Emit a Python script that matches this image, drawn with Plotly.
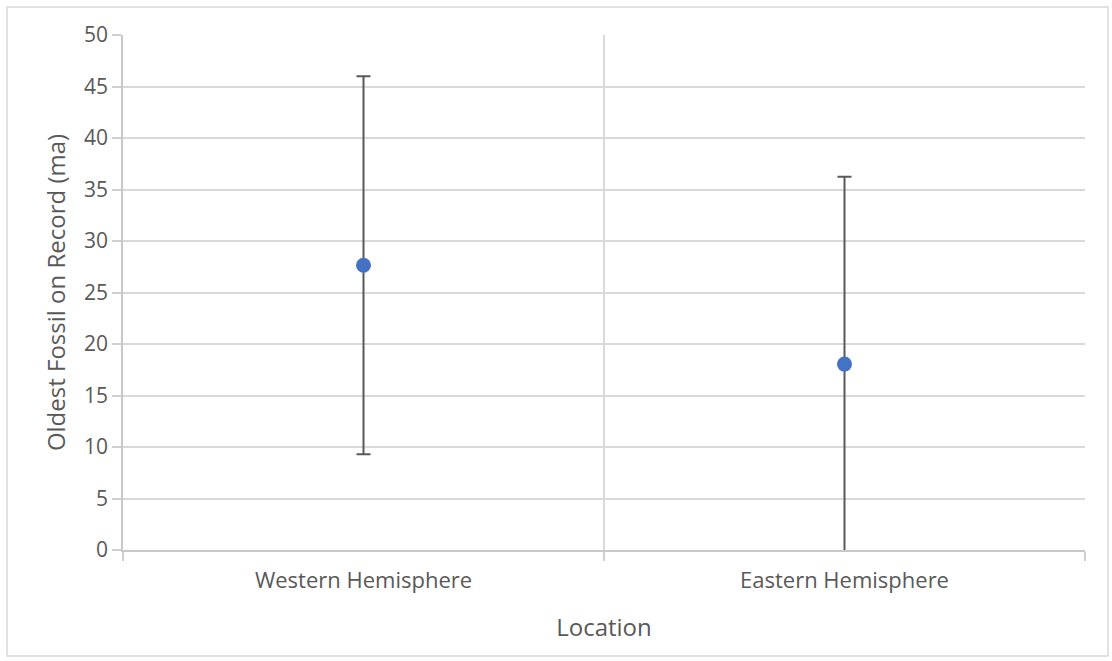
import plotly.graph_objects as go

categories = ["Western Hemisphere", "Eastern Hemisphere"]
means = [27.65, 18.05]
errors = [18.35, 18.2]
y_ticks = [0, 5, 10, 15, 20, 25, 30, 35, 40, 45, 50]

W, H = 1112, 661
L, R, T, B = 123, 27, 35, 111
pw, ph = W - L - R, H - T - B

fig = go.Figure()
fig.add_trace(go.Scatter(
    x=categories, y=means, mode="markers",
    marker=dict(color="#4472C4", size=15),
    error_y=dict(type="data", array=errors, visible=True,
                 color="#595959", thickness=2, width=7),
    cliponaxis=False, showlegend=False,
))

font_family = "Open Sans, Noto Sans, sans-serif"
fig.update_layout(
    width=W, height=H,
    margin=dict(l=L, r=R, t=T, b=B),
    paper_bgcolor="white", plot_bgcolor="white",
    font=dict(family=font_family, color="#595959", size=22),
    xaxis=dict(
        type="category", tickson="boundaries", ticks="outside", ticklen=9,
        tickcolor="#d0d0d0", tickwidth=1.5,
        showgrid=True, gridcolor="#d9d9d9", gridwidth=1.5,
        showline=True, linecolor="#c8c8c8", linewidth=1.5,
        title=dict(text="Location", font=dict(size=24, color="#595959"), standoff=26),
        tickfont=dict(size=22, color="#595959"),
        ticklabelstandoff=10,
        range=[-0.5, 1.5],
    ),
    yaxis=dict(
        range=[0, 50], tickvals=y_ticks, ticks="outside", ticklen=9,
        tickcolor="#d0d0d0", tickwidth=1.5,
        showgrid=True, gridcolor="#d9d9d9", gridwidth=1.5,
        showline=True, linecolor="#c8c8c8", linewidth=1.5,
        zeroline=False,
        title=dict(text="Oldest Fossil on Record (ma)", font=dict(size=24, color="#595959"), standoff=12),
        tickfont=dict(size=21, color="#595959"),
    ),
    shapes=[dict(
        type="rect", xref="paper", yref="paper",
        x0=(7 - L) / pw, x1=(1108 - L) / pw,
        y0=(H - B - 656) / ph, y1=1 + (T - 7) / ph,
        line=dict(color="#d9d9d9", width=1.5), layer="below",
    )],
)

fig.write_html("out.html", config={"displayModeBar": False},
               post_script="document.body.style.margin='0';document.body.style.padding='0';")
